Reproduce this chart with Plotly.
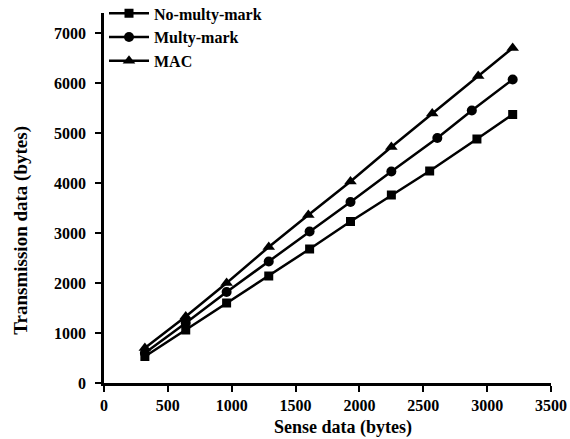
import plotly.graph_objects as go

series_names = ["No-multy-mark", "Multy-mark", "MAC"]
x_nomulty = [320, 640, 960, 1290, 1610, 1930, 2250, 2550, 2920, 3200]
y_nomulty = [530, 1060, 1600, 2140, 2680, 3230, 3760, 4240, 4880, 5370]
x_multy = [320, 640, 960, 1290, 1610, 1930, 2250, 2610, 2880, 3200]
y_multy = [600, 1200, 1820, 2430, 3030, 3620, 4230, 4900, 5450, 6070]
x_mac = [320, 640, 960, 1290, 1600, 1930, 2250, 2570, 2930, 3200]
y_mac = [700, 1330, 2000, 2720, 3360, 4030, 4720, 5390, 6140, 6700]
x_ticks = [0, 500, 1000, 1500, 2000, 2500, 3000, 3500]
y_ticks = [0, 1000, 2000, 3000, 4000, 5000, 6000, 7000]
x_title = "Sense data (bytes)"
y_title = "Transmission data (bytes)"

FONT = "Liberation Serif"

fig = go.Figure()
for name, xs, ys, sym, sz in [
    (series_names[0], x_nomulty, y_nomulty, "square", 9),
    (series_names[1], x_multy, y_multy, "circle", 10),
    (series_names[2], x_mac, y_mac, "triangle-up", 11),
]:
    fig.add_trace(go.Scatter(
        x=xs, y=ys, name=name, mode="lines+markers",
        line=dict(color="black", width=2.5),
        marker=dict(symbol=sym, size=sz, color="black"),
    ))

axis_common = dict(
    showline=True, linecolor="black", linewidth=2.5,
    ticks="outside", ticklen=6, tickwidth=2, tickcolor="black",
    showgrid=False, zeroline=False, automargin=False,
    tickfont=dict(family=FONT, size=16, color="black", weight="bold"),
)

fig.update_layout(
    width=570, height=439,
    margin=dict(l=104, r=19, t=13, b=56, autoexpand=False),
    paper_bgcolor="white", plot_bgcolor="white",
    font=dict(family=FONT, color="black"),
    xaxis=dict(range=[0, 3500], tickvals=x_ticks, **axis_common),
    yaxis=dict(range=[0, 7400], tickvals=y_ticks, ticklabelstandoff=6, **axis_common),
    legend=dict(x=0.0, y=1.045, xanchor="left", yanchor="top",
                bgcolor="rgba(0,0,0,0)", tracegroupgap=0,
                font=dict(family=FONT, size=16, color="black", weight="bold"),
                itemwidth=40),
    showlegend=True,
    annotations=[
        dict(text=x_title, xref="paper", yref="paper", x=0.535, y=-0.119,
             xanchor="center", yanchor="middle", showarrow=False,
             font=dict(family=FONT, size=18, color="black", weight="bold")),
        dict(text=y_title, xref="paper", yref="paper", x=-0.186, y=0.414,
             xanchor="center", yanchor="middle", showarrow=False, textangle=-90,
             font=dict(family=FONT, size=19, color="black", weight="bold")),
    ],
)

fig.write_html("out.html", config={"displayModeBar": False},
               post_script="document.body.style.margin='0';document.body.style.overflow='hidden';")
